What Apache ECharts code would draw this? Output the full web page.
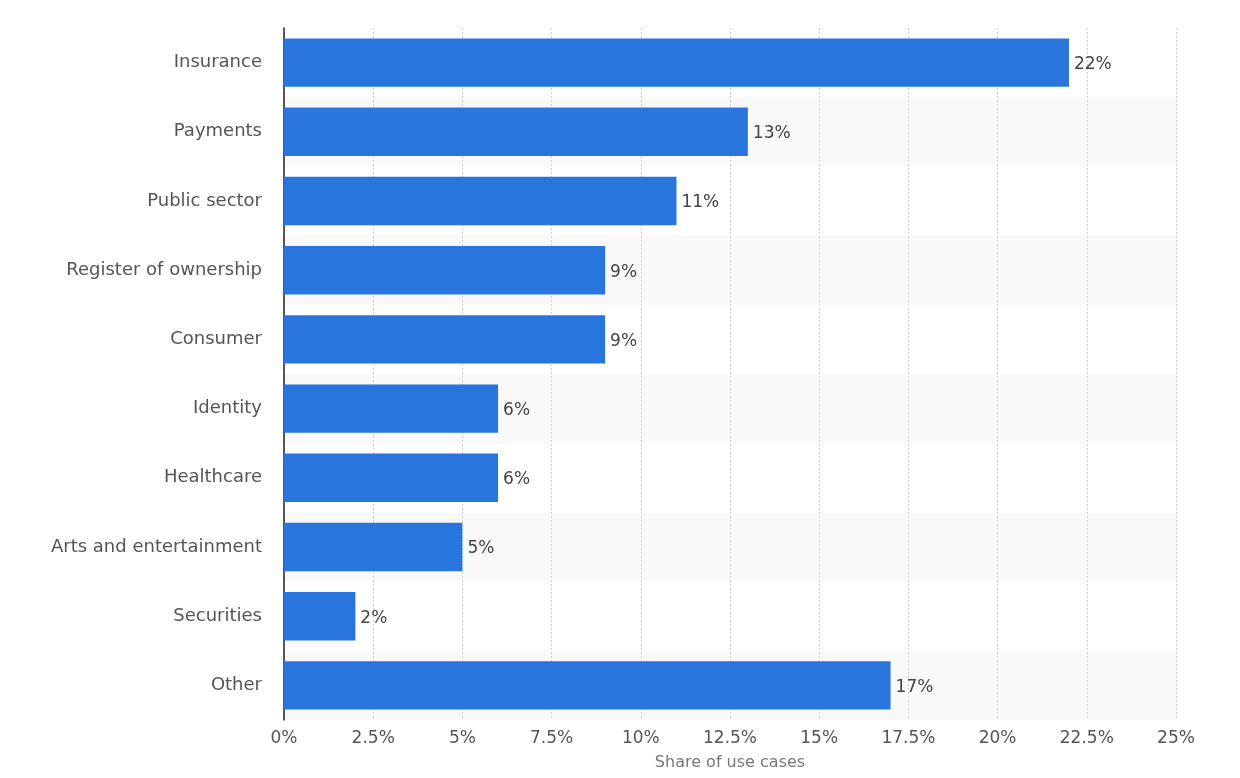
<!DOCTYPE html>
<html>
<head>
<meta charset="utf-8">
<script src="https://cdn.jsdelivr.net/npm/echarts@6/dist/echarts.min.js"></script>
<style>
html,body{margin:0;padding:0;background:#fff;}
#chart{width:1240px;height:778px;}
</style>
</head>
<body>
<div id="chart"></div>
<script>
var categories = ["Insurance","Payments","Public sector","Register of ownership","Consumer","Identity","Healthcare","Arts and entertainment","Securities","Other"];
var values = [22,13,11,9,9,6,6,5,2,17];
var xTicks = [0,2.5,5,7.5,10,12.5,15,17.5,20,22.5,25];
var axisTitle = "Share of use cases";

var chart = echarts.init(document.getElementById('chart'));
var FONT = 'DejaVu Sans';
chart.setOption({
  animation:false,
  grid:{left:284,right:64,top:28,bottom:58,containLabel:false},
  xAxis:{
    type:'value',min:xTicks[0],max:xTicks[xTicks.length-1],interval:xTicks[1]-xTicks[0],
    name:axisTitle,nameLocation:'middle',nameGap:35,
    nameTextStyle:{color:'#777',fontSize:16,fontFamily:FONT},
    axisLine:{show:false},axisTick:{show:false},
    axisLabel:{color:'#555',fontSize:17,fontFamily:FONT,margin:10,formatter:function(v){return v+'%';}},
    splitLine:{show:true,lineStyle:{color:'#cfcfcf',type:[2,2],width:1}}
  },
  yAxis:{
    type:'category',data:categories,inverse:true,
    axisLine:{show:true,lineStyle:{color:'#222',width:1.5}},
    axisTick:{show:false},
    axisLabel:{color:'#555',fontSize:18,fontFamily:FONT,margin:22},
    splitArea:{show:true,areaStyle:{color:['#ffffff','#f9f9f9']}}
  },
  series:[{
    type:'bar',data:values,barWidth:'70%',
    itemStyle:{color:'#2876dd'},
    label:{show:true,position:'right',distance:5,offset:[0,2],color:'#444',fontSize:17,fontFamily:FONT,formatter:'{c}%'}
  }]
});
</script>
</body>
</html>
